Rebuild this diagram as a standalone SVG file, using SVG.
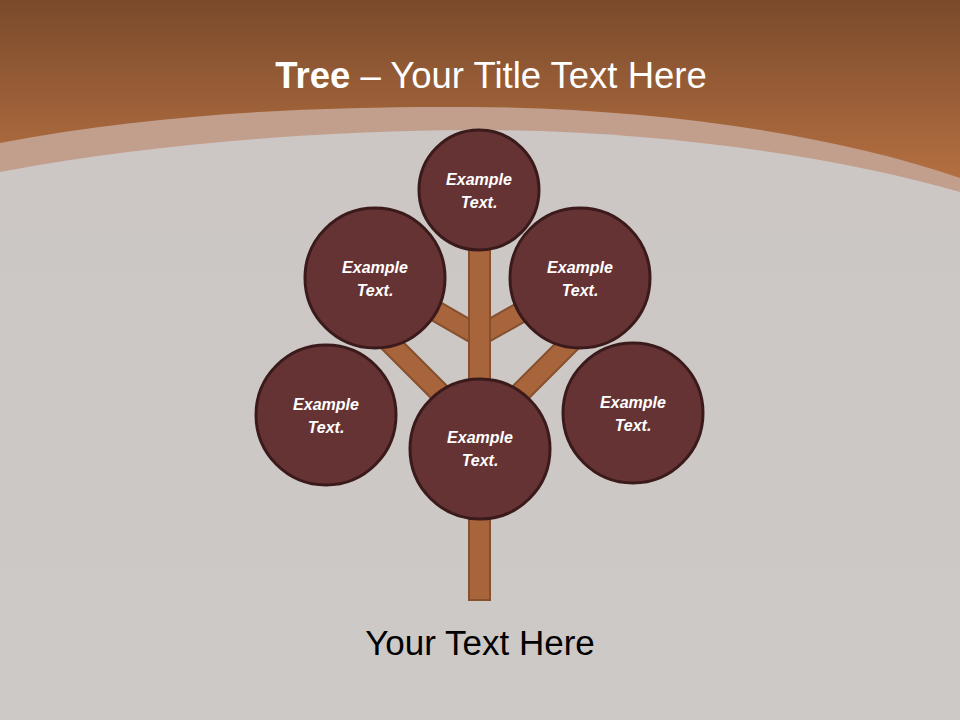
<svg xmlns="http://www.w3.org/2000/svg" width="960" height="720" viewBox="0 0 960 720">
<defs>
<linearGradient id="bg" x1="0" y1="0" x2="0" y2="1">
<stop offset="0" stop-color="#7a4a2c"/>
<stop offset="1" stop-color="#bb7443"/>
</linearGradient>
<linearGradient id="gray" x1="0" y1="0" x2="0" y2="1">
<stop offset="0" stop-color="#ccc7c4"/>
<stop offset="1" stop-color="#cdc9c6"/>
</linearGradient>
</defs>
<style>
.node circle{fill:#663334;stroke:#3b1a1b;stroke-width:3}
.node text{fill:#ffffff;font-family:"Liberation Sans",Arial,sans-serif;font-size:16px;font-weight:bold;font-style:italic;text-anchor:middle}
.br-o{stroke:#86502f;stroke-width:22;fill:none}
.br-i{stroke:#a8643a;stroke-width:18;fill:none}
</style>
<rect x="0" y="0" width="960" height="200" fill="url(#bg)"/>
<path d="M0,143 C160,112 330,106 470,107 C640,108 820,130 960,178 L960,720 L0,720 Z" fill="#c29f8d"/>
<path d="M0,172 C160,142 330,131 470,130 C640,130 820,152 960,192 L960,720 L0,720 Z" fill="url(#gray)"/>
<text x="491" y="88" text-anchor="middle" fill="#ffffff" font-family="Liberation Sans,Arial,sans-serif" font-size="36.5"><tspan font-weight="bold">Tree</tspan> – Your Title Text Here</text>
<g id="connectors">
<line class="br-o" x1="375" y1="276" x2="479" y2="336"/>
<line class="br-o" x1="585" y1="276" x2="479" y2="336"/>
<line class="br-o" x1="375" y1="328" x2="480" y2="433"/>
<line class="br-o" x1="585" y1="328" x2="480" y2="433"/>
<line class="br-i" x1="375" y1="276" x2="479" y2="336"/>
<line class="br-i" x1="585" y1="276" x2="479" y2="336"/>
<line class="br-i" x1="375" y1="328" x2="480" y2="433"/>
<line class="br-i" x1="585" y1="328" x2="480" y2="433"/>
<rect x="469" y="240" width="21" height="360" fill="#a8643a" stroke="#86502f" stroke-width="2"/>
</g>
<g id="n-top" class="node"><circle cx="479" cy="190" r="60"/><text x="479" y="185">Example</text><text x="479" y="208">Text.</text></g>
<g id="n-ul" class="node"><circle cx="375" cy="278" r="70"/><text x="375" y="273">Example</text><text x="375" y="296">Text.</text></g>
<g id="n-ur" class="node"><circle cx="580" cy="278" r="70"/><text x="580" y="273">Example</text><text x="580" y="296">Text.</text></g>
<g id="n-ll" class="node"><circle cx="326" cy="415" r="70"/><text x="326" y="410">Example</text><text x="326" y="433">Text.</text></g>
<g id="n-lr" class="node"><circle cx="633" cy="413" r="70"/><text x="633" y="408">Example</text><text x="633" y="431">Text.</text></g>
<g id="n-c" class="node"><circle cx="480" cy="449" r="70"/><text x="480" y="443">Example</text><text x="480" y="466">Text.</text></g>
<text x="480" y="655" text-anchor="middle" fill="#000000" font-family="Liberation Sans,Arial,sans-serif" font-size="35">Your Text Here</text>
</svg>
